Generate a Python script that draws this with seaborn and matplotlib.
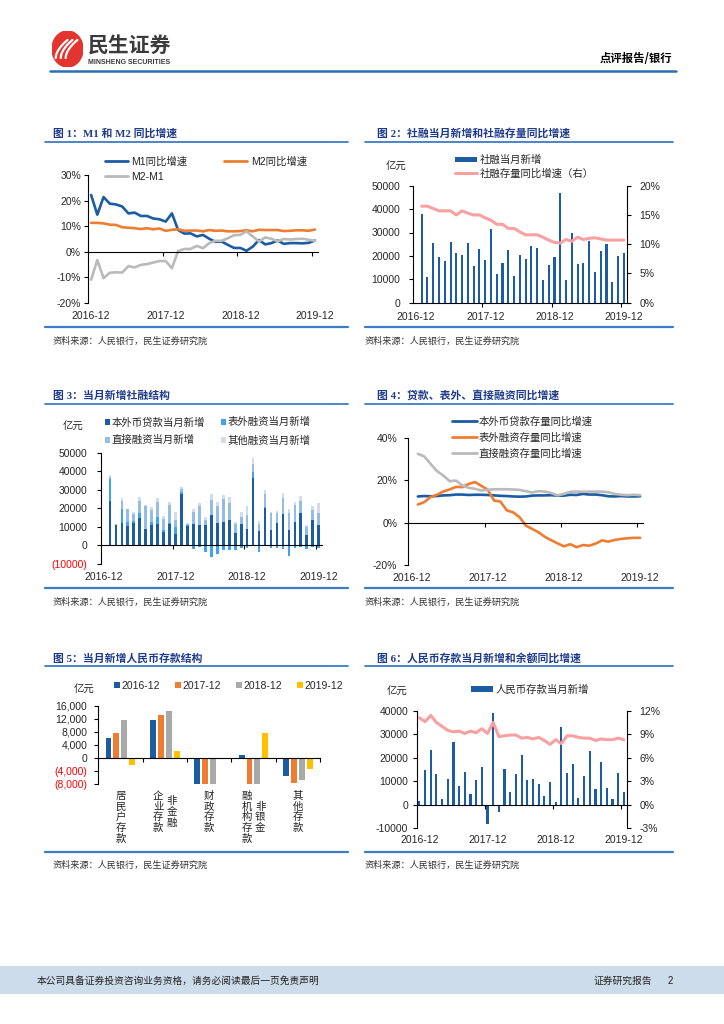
import numpy as np
import pandas as pd
import matplotlib
matplotlib.use('Agg')
import matplotlib.pyplot as plt
import matplotlib.transforms as mtransforms
from matplotlib.lines import Line2D
from matplotlib.patches import Patch, Ellipse, Rectangle
import seaborn as sns

# ---------------- datos ----------------
months = list(pd.period_range('2016-12', '2019-12', freq='M').strftime('%Y-%m'))
tick_labels = ['2016-12', '2017-12', '2018-12', '2019-12']
tick_pos = [0, 12, 24, 36]

# 图1 (2016-12 ~ 2019-12)
m1 = [22.2, 14.5, 21.4, 18.8, 18.5, 17.7, 15.0, 15.3, 14.0, 14.0, 13.0, 12.7, 11.8,
      15.0, 8.5, 7.1, 7.2, 6.0, 6.6, 5.1, 3.9, 4.0, 2.7, 1.5, 1.5,
      0.4, 2.0, 4.6, 2.9, 3.4, 4.4, 3.1, 3.4, 3.4, 3.3, 3.5, 4.4]
m2 = [11.3, 11.3, 11.1, 10.6, 10.5, 9.6, 9.4, 9.2, 8.9, 9.2, 8.8, 9.1, 8.2,
      8.6, 8.8, 8.2, 8.3, 8.3, 8.0, 8.5, 8.2, 8.3, 8.0, 8.0, 8.1,
      8.4, 8.0, 8.6, 8.5, 8.5, 8.5, 8.1, 8.2, 8.4, 8.4, 8.2, 8.7]
m2_m1 = [-10.9, -3.2, -10.3, -8.2, -8.0, -8.1, -5.6, -6.1, -5.1, -4.8, -4.2, -3.6, -3.6,
         -6.4, 0.3, 1.1, 1.1, 2.3, 1.4, 3.4, 4.3, 4.3, 5.3, 6.5, 6.6,
         8.0, 6.0, 4.0, 5.6, 5.1, 4.1, 5.0, 4.8, 5.0, 5.1, 4.7, 4.3]

# 图2 (2017-01 ~ 2019-12)
tsf_new = [37700, 11100, 25600, 19700, 17800, 25900, 21400, 20400, 25500, 15800, 22900, 18100,
           31500, 12100, 17100, 22500, 11400, 20500, 18500, 24100, 23200, 9500, 16000, 19500,
           46900, 9500, 29600, 16700, 17100, 26200, 13000, 22100, 25100, 8700, 20100, 21100]
tsf_yoy = [16.5, 16.5, 16.1, 15.7, 15.7, 15.7, 15.0, 15.7, 15.3, 15.0, 15.0, 14.5,
           14.1, 13.4, 13.4, 12.7, 12.7, 12.1, 11.6, 11.6, 11.6, 11.2, 10.7, 10.3,
           10.2, 10.8, 10.5, 11.2, 10.8, 11.0, 11.1, 10.9, 10.7, 10.7, 10.7, 10.7]

# 图3 (2017-01 ~ 2019-12)
loan_new = [23700, 10900, 12000, 10600, 12000, 14900, 9100, 11100, 11600, 7000, 11600, 6100,
            27600, 10400, 11600, 11100, 11100, 16500, 12200, 12900, 13800, 6600, 11600, 8600,
            36400, 7900, 20100, 8400, 12200, 16800, 8100, 12900, 17400, 5400, 13600, 10900]
offbal_new = [12100, 200, 7500, 1800, 1200, 2500, -500, 1800, 4000, 1100, 500, 3600,
              1400, 500, -1800, -800, -3800, -6300, -4700, -2300, -2300, -2500, -1600, -1600,
              3000, -3400, 500, -1600, -1600, -2000, -5900, -1300, -1100, -2000, -1100, -1400]
direct_new = [1200, 200, 4700, 7100, 3900, 6300, 12000, 6300, 7700, 6200, 9600, 4100,
              1200, 600, 6300, 9900, 2700, 8100, 8800, 12000, 9300, 5000, 4000, 7900,
              4500, 3500, 7400, 9000, 5200, 8600, 9600, 9000, 6300, 4300, 5600, 6800]
other_new = [1200, 300, 1600, 200, 1000, 2300, 900, 1400, 2100, 1600, 1600, 4500,
             1200, 500, 1800, 1800, 1800, 3200, 2300, 2200, 3100, 1300, 2500, 4500,
             3100, 1900, 1700, 900, 1200, 3100, 1800, 1400, 2800, 1200, 2100, 5100]

# 图4 (2017-01 ~ 2019-12)
loan_yoy = [12.3, 12.5, 12.4, 12.5, 12.8, 12.9, 13.2, 13.2, 13.0, 13.1, 13.1, 13.0,
            12.8, 12.6, 12.5, 12.3, 12.2, 12.3, 12.7, 12.8, 12.8, 12.9, 12.7, 12.7,
            13.1, 13.0, 13.5, 13.2, 13.2, 12.9, 12.4, 12.3, 12.5, 12.3, 12.3, 12.4]
offbal_yoy = [8.5, 9.6, 12.0, 13.1, 14.6, 15.6, 16.8, 16.7, 18.2, 19.1, 17.3, 15.5,
              10.4, 9.9, 5.8, 4.8, 2.6, -1.4, -3.0, -4.6, -6.7, -8.3, -9.8, -11.2,
              -10.2, -11.6, -10.6, -10.9, -9.9, -8.4, -9.0, -8.2, -7.7, -7.4, -7.2, -7.2]
direct_yoy = [32.4, 31.2, 27.7, 24.3, 22.2, 19.5, 19.8, 17.5, 16.4, 15.9, 15.1, 15.4,
              15.7, 15.7, 15.7, 15.6, 15.4, 14.8, 14.2, 14.8, 14.6, 13.9, 12.8, 13.5,
              14.5, 14.6, 14.5, 14.6, 14.6, 14.6, 14.3, 13.5, 13.1, 12.9, 13.1, 12.9]

# 图5
dep_cats = ['居民户存款', '非金融企业存款', '财政存款', '非银金融机构存款', '其他存款']
dep_years = ['2016-12', '2017-12', '2018-12', '2019-12']
dep_2016 = [6200, 11500, -10500, 900, -5500]
dep_2017 = [7600, 13300, -12000, -10500, -7600]
dep_2018 = [11600, 14400, -9500, -7900, -6700]
dep_2019 = [-2000, 2200, np.nan, 7700, -3200]
# columnas verticales de cada etiqueta (de derecha a izquierda)
dep_label_cols = [['居民户存款'], ['非金融', '企业存款'], ['财政存款'], ['非银金', '融机构存款'], ['其他存款']]

# 图6 (2016-12 ~ 2019-12)
rmb_dep_new = [1700, 15000, 23100, 12900, 2600, 11100, 26600, 8100, 13900, 4400, 10600, 15900,
               -8000, 38900, -2900, 15100, 5600, 13000, 21300, 10400, 11100, 9000, 3600, 9600,
               1100, 32900, 13300, 17400, 2700, 12400, 22900, 6600, 18100, 7300, 2400, 13300, 5600]
rmb_dep_yoy = [11.1, 10.6, 11.4, 10.5, 10.0, 9.5, 9.3, 9.4, 9.1, 9.4, 9.2, 9.7,
               9.1, 10.5, 8.7, 8.8, 8.9, 8.9, 8.5, 8.6, 8.4, 8.6, 8.2, 7.7,
               8.3, 7.8, 8.8, 8.8, 8.6, 8.5, 8.5, 8.2, 8.4, 8.3, 8.3, 8.5, 8.3]

# ---------------- estilo ----------------
sns.set_theme(style="white")
plt.rcParams['font.family'] = ['Liberation Sans', 'Noto Sans CJK SC', 'DejaVu Sans']
plt.rcParams['axes.unicode_minus'] = False

C_BLUE = '#1B5CA3'
C_ORANGE = '#EE7D31'
C_GRAY = '#BABABA'
C_PINK = '#F9A0A0'
C_OFFBAL = '#3FA4EE'
C_DIRECT = '#93BDE5'
C_OTHER = '#CFDDEF'
C_TITLE = '#1F3A8A'
C_LINE = '#3C7BC5'
FS = 7.5
CJK = ['Noto Sans CJK SC', 'DejaVu Sans']

W, H = 724, 1024
fig = plt.figure(figsize=(7.24, 10.24), dpi=100)


def rect(l, t, r, b):
    return [l / W, 1 - b / H, (r - l) / W, (b - t) / H]


def fx(x):
    return x / W


def fy(y):
    return 1 - y / H


def panel(x0, x1, tx, y_title, y_line, y_src, sx, title):
    fig.text(fx(tx), fy(y_title), title, fontsize=7.8, fontweight='bold', color=C_TITLE,
             va='center', ha='left', family=['Liberation Serif', 'Noto Sans CJK SC'])
    fig.add_artist(Line2D([fx(x0), fx(x1)], [fy(y_line)] * 2, color=C_LINE, lw=1.3))
    fig.add_artist(Line2D([fx(x0), fx(x1)], [fy(y_src)] * 2, color=C_LINE, lw=1.6))
    fig.text(fx(sx), fy(y_src + 14), '资料来源：人民银行，民生证券研究院', fontsize=6.6,
             color='#333333', va='center', ha='left', family=CJK)


def style(ax, zero=True, xt=(11.5, 23.5, 35.5)):
    for s in ['top', 'right']:
        ax.spines[s].set_visible(False)
    for s in ['left', 'bottom']:
        ax.spines[s].set_color('black')
        ax.spines[s].set_linewidth(0.8)
    if zero:
        ax.spines['bottom'].set_position(('data', 0))
    ax.set_xticks(list(xt))
    ax.set_xticklabels([])
    ax.tick_params(axis='x', direction='out', length=3, width=0.8, color='black', bottom=True)
    ax.tick_params(axis='y', direction='out', length=3, width=0.8, color='black', left=True,
                   labelsize=FS, pad=2)
    ax.grid(False)
    ax.set_xlabel('')
    ax.set_ylabel('')
    ax.patch.set_alpha(0)


def yticks(ax, ticks, labels, red_neg=False):
    ax.set_yticks(ticks)
    ax.set_yticklabels(labels)
    if red_neg:
        for t, lab in zip(ticks, ax.get_yticklabels()):
            if t < 0:
                lab.set_color('#FF0000')


def xlabels(ax, ypx):
    tr = mtransforms.blended_transform_factory(ax.transData, fig.transFigure)
    for lab, p in zip(tick_labels, tick_pos):
        ax.text(p, fy(ypx), lab, transform=tr, ha='center', va='center', fontsize=FS)


def unit(xc, ypx):
    fig.text(fx(xc), fy(ypx), '亿元', fontsize=FS, ha='center', va='center', family=CJK)


# ---------------- cabecera ----------------
ax_logo = fig.add_axes(rect(52, 31, 83, 67))
ax_logo.set_xlim(0, 1)
ax_logo.set_ylim(0, 1)
ax_logo.axis('off')
ax_logo.add_patch(Ellipse((0.5, 0.5), 1.0, 1.0, color='#E3342F'))
tt = np.linspace(0, 1, 40)
for off in [0.0, 0.16, 0.32]:
    ax_logo.plot(0.12 + off + 0.38 * tt, 0.25 + 0.5 * tt ** 0.55, color='white', lw=1.6,
                 solid_capstyle='round')
fig.text(fx(88), fy(46), '民生证券', fontsize=15, fontweight='bold', color='#3A3A3A',
         va='center', ha='left', family=CJK)
fig.text(fx(88.5), fy(62.5), 'MINSHENG SECURITIES', fontsize=5.0, fontweight='bold',
         color='#3A3A3A', va='center', ha='left')
fig.text(fx(672), fy(59), '点评报告/银行', fontsize=8.2, fontweight='bold', color='black',
         va='center', ha='right', family=CJK)
fig.add_artist(Line2D([fx(50), fx(676)], [fy(71)] * 2, color='#2F6DB5', lw=1.8))

# ---------------- paneles ----------------
panel(45, 348, 53, 133.3, 141.7, 327.3, 53, '图 1：M1 和 M2 同比增速')
panel(365, 673, 377, 133.3, 141.7, 327.3, 365, '图 2：社融当月新增和社融存量同比增速')
panel(45, 348, 53, 395.7, 404.3, 588.3, 53, '图 3：当月新增社融结构')
panel(365, 673, 377, 395.7, 404.3, 588.3, 365, '图 4：贷款、表外、直接融资同比增速')
panel(45, 348, 53, 658.3, 666.0, 851.7, 53, '图 5：当月新增人民币存款结构')
panel(365, 673, 377, 658.3, 666.0, 851.7, 365, '图 6：人民币存款当月新增和余额同比增速')

# ---------------- 图1 ----------------
x1 = np.arange(len(months))
ax1 = fig.add_axes(rect(88, 175, 318, 303))
sns.lineplot(x=x1, y=m1, ax=ax1, color=C_BLUE, linewidth=1.9)
sns.lineplot(x=x1, y=m2, ax=ax1, color=C_ORANGE, linewidth=1.9)
sns.lineplot(x=x1, y=m2_m1, ax=ax1, color=C_GRAY, linewidth=1.9)
ax1.set_xlim(-0.5, 36.5)
ax1.set_ylim(-20, 30)
style(ax1)
yticks(ax1, [-20, -10, 0, 10, 20, 30], ['-20%', '-10%', '0%', '10%', '20%', '30%'])
xlabels(ax1, 316)
h1 = [Line2D([], [], color=C_BLUE, lw=2), Line2D([], [], color=C_GRAY, lw=2),
      Line2D([], [], color=C_ORANGE, lw=2)]
ax1.legend(h1, ['M1同比增速', 'M2-M1', 'M2同比增速'], ncol=2, loc='upper left',
           bbox_to_anchor=(fx(105), fy(156)), bbox_transform=fig.transFigure, frameon=False,
           fontsize=FS, handlelength=2.2, handletextpad=0.35, columnspacing=3.5,
           labelspacing=0.55, borderpad=0, borderaxespad=0)

# ---------------- 图2 ----------------
x2 = np.arange(1, 37)
ax2 = fig.add_axes(rect(413, 185.7, 626.7, 302.7))
sns.barplot(x=x2, y=tsf_new, native_scale=True, ax=ax2, color=C_BLUE, width=0.36,
            saturation=1, linewidth=0, errorbar=None)
ax2.set_xlim(-0.5, 36.5)
ax2.set_ylim(0, 50000)
style(ax2, zero=False)
ax2.tick_params(axis='y', pad=6)
yticks(ax2, [0, 10000, 20000, 30000, 40000, 50000],
       ['0', '10000', '20000', '30000', '40000', '50000'])
ax2r = ax2.twinx()
sns.lineplot(x=x2, y=tsf_yoy, ax=ax2r, color=C_PINK, linewidth=2.2)
ax2r.set_ylim(0, 20)
for s in ['left', 'top', 'bottom']:
    ax2r.spines[s].set_visible(False)
ax2r.spines['right'].set_color('black')
ax2r.spines['right'].set_linewidth(0.8)
ax2r.tick_params(axis='y', direction='out', length=3, width=0.8, color='black', right=True,
                 labelsize=FS, pad=6)
ax2r.set_ylabel('')
ax2r.grid(False)
yticks(ax2r, [0, 5, 10, 15, 20], ['0%', '5%', '10%', '15%', '20%'])
xlabels(ax2, 316.7)
unit(396, 166.7)
h2 = [Patch(color=C_BLUE, lw=0), Line2D([], [], color=C_PINK, lw=2.2)]
ax2r.legend(h2, ['社融当月新增', '社融存量同比增速（右）'], loc='upper left',
            bbox_to_anchor=(fx(455), fy(155)), bbox_transform=fig.transFigure, frameon=False,
            fontsize=FS, handlelength=2.1, handleheight=0.5, handletextpad=0.3,
            labelspacing=0.3, borderpad=0, borderaxespad=0)

# ---------------- 图3 ----------------
x3 = np.arange(1, 37)
off = np.array(offbal_new)
lay2 = np.array(loan_new) + np.clip(off, 0, None)
lay3 = lay2 + np.array(direct_new)
lay4 = lay3 + np.array(other_new)
neg = np.clip(off, None, 0)
ax3 = fig.add_axes(rect(101, 452.7, 321.7, 564))
for vals, col in [(lay4, C_OTHER), (lay3, C_DIRECT), (lay2, C_OFFBAL), (loan_new, C_BLUE),
                  (neg, C_OFFBAL)]:
    sns.barplot(x=x3, y=vals, native_scale=True, ax=ax3, color=col, width=0.45,
                saturation=1, linewidth=0, errorbar=None)
ax3.set_xlim(-0.5, 36.5)
ax3.set_ylim(-10000, 50000)
style(ax3)
ax3.tick_params(axis='y', pad=7)
yticks(ax3, [-10000, 0, 10000, 20000, 30000, 40000, 50000],
       ['(10000)', '0', '10000', '20000', '30000', '40000', '50000'], red_neg=True)
xlabels(ax3, 576.7)
unit(73, 426.7)
h3 = [Patch(color=C_BLUE, lw=0), Patch(color=C_DIRECT, lw=0), Patch(color=C_OFFBAL, lw=0),
      Patch(color=C_OTHER, lw=0)]
ax3.legend(h3, ['本外币贷款当月新增', '直接融资当月新增', '表外融资当月新增', '其他融资当月新增'],
           ncol=2, loc='upper left', bbox_to_anchor=(fx(105), fy(417)),
           bbox_transform=fig.transFigure, frameon=False, fontsize=FS, handlelength=0.5,
           handleheight=0.5, handletextpad=0.15, columnspacing=1.5, labelspacing=0.75,
           borderpad=0, borderaxespad=0)

# ---------------- 图4 ----------------
x4 = np.arange(1, 37)
ax4 = fig.add_axes(rect(408.3, 437.7, 643.3, 565))
sns.lineplot(x=x4, y=loan_yoy, ax=ax4, color=C_BLUE, linewidth=1.9)
sns.lineplot(x=x4, y=offbal_yoy, ax=ax4, color=C_ORANGE, linewidth=1.9)
sns.lineplot(x=x4, y=direct_yoy, ax=ax4, color=C_GRAY, linewidth=1.9)
ax4.set_xlim(-0.5, 36.5)
ax4.set_ylim(-20, 40)
style(ax4)
ax4.tick_params(axis='y', pad=5)
yticks(ax4, [-20, 0, 20, 40], ['-20%', '0%', '20%', '40%'])
xlabels(ax4, 577.7)
h4 = [Line2D([], [], color=C_BLUE, lw=2), Line2D([], [], color=C_ORANGE, lw=2),
      Line2D([], [], color=C_GRAY, lw=2)]
ax4.legend(h4, ['本外币贷款存量同比增速', '表外融资存量同比增速', '直接融资存量同比增速'],
           loc='upper left', bbox_to_anchor=(fx(451.7), fy(416)),
           bbox_transform=fig.transFigure, frameon=False, fontsize=FS, handlelength=2.4,
           handletextpad=0.22, labelspacing=0.55, borderpad=0, borderaxespad=0)

# ---------------- 图5 ----------------
df5 = pd.DataFrame({
    'cat': dep_cats * 4,
    'year': sum([[y] * len(dep_cats) for y in dep_years], []),
    'value': dep_2016 + dep_2017 + dep_2018 + dep_2019,
})
pal5 = dict(zip(dep_years, [C_BLUE, C_ORANGE, '#A9A9A9', '#FFC000']))
ax5 = fig.add_axes(rect(98.3, 705.7, 320, 784.3))
sns.barplot(data=df5, x='cat', y='value', hue='year', order=dep_cats, hue_order=dep_years,
            palette=pal5, width=0.72, gap=0.25, saturation=1, linewidth=0, errorbar=None,
            legend=False, ax=ax5)
ax5.set_xlim(-0.5, 4.5)
ax5.set_ylim(-8000, 16000)
style(ax5, xt=(0.5, 1.5, 2.5, 3.5, 4.5))
ax5.tick_params(axis='y', pad=5)
yticks(ax5, [-8000, -4000, 0, 4000, 8000, 12000, 16000],
       ['(8,000)', '(4,000)', '0', '4,000', '8,000', '12,000', '16,000'], red_neg=True)
unit(84, 690)
h5 = [Patch(color=pal5[y], lw=0) for y in dep_years]
ax5.legend(h5, dep_years, ncol=4, loc='center left', bbox_to_anchor=(fx(114), fy(685.7)),
           bbox_transform=fig.transFigure, frameon=False, fontsize=FS, handlelength=0.55,
           handleheight=0.55, handletextpad=0.15, columnspacing=1.45, borderpad=0,
           borderaxespad=0)
# etiquetas verticales
tr5 = mtransforms.blended_transform_factory(ax5.transData, fig.transFigure)
step = 10.7
for i, cols in enumerate(dep_label_cols):
    n = len(cols)
    maxlen = max(len(c) for c in cols)
    for j, col in enumerate(cols):
        dx = 0 if n == 1 else (6.7 if j == 0 else -6.7)
        trj = mtransforms.offset_copy(tr5, fig=fig, x=dx, y=0, units='dots')
        y0 = 796 + (maxlen - len(col)) * step / 2
        for k, ch in enumerate(col):
            ax5.text(i, fy(y0 + k * step), ch, transform=trj, ha='center', va='center',
                     fontsize=FS, family=CJK, color='#222222')

# ---------------- 图6 ----------------
x6 = np.arange(len(months))
ax6 = fig.add_axes(rect(416.5, 710.7, 626.7, 828.3))
sns.barplot(x=x6, y=rmb_dep_new, native_scale=True, ax=ax6, color=C_BLUE, width=0.38,
            saturation=1, linewidth=0, errorbar=None)
ax6.set_xlim(-0.5, 36.5)
ax6.set_ylim(-10000, 40000)
style(ax6)
ax6.tick_params(axis='y', pad=3)
yticks(ax6, [-10000, 0, 10000, 20000, 30000, 40000],
       ['-10000', '0', '10000', '20000', '30000', '40000'])
ax6r = ax6.twinx()
sns.lineplot(x=x6, y=rmb_dep_yoy, ax=ax6r, color=C_PINK, linewidth=2.2)
ax6r.set_ylim(-3, 12)
for s in ['left', 'top', 'bottom']:
    ax6r.spines[s].set_visible(False)
ax6r.spines['right'].set_color('black')
ax6r.spines['right'].set_linewidth(0.8)
ax6r.tick_params(axis='y', direction='out', length=3, width=0.8, color='black', right=True,
                 labelsize=FS, pad=6)
ax6r.set_ylabel('')
ax6r.grid(False)
yticks(ax6r, [-3, 0, 3, 6, 9, 12], ['-3%', '0%', '3%', '6%', '9%', '12%'])
xlabels(ax6, 840)
unit(397, 691.7)
ax6r.legend([Patch(color=C_BLUE, lw=0)], ['人民币存款当月新增'], loc='center left',
            bbox_to_anchor=(fx(471), fy(690)), bbox_transform=fig.transFigure, frameon=False,
            fontsize=FS, handlelength=2.1, handleheight=0.5, handletextpad=0.3,
            borderpad=0, borderaxespad=0)

# ---------------- pie de pagina ----------------
fig.add_artist(Rectangle((0, fy(994)), 1, (994 - 966) / H, transform=fig.transFigure,
                         color='#CDDCEA', lw=0))
fig.text(fx(37), fy(981), '本公司具备证券投资咨询业务资格，请务必阅读最后一页免责声明',
         fontsize=7.0, color='#222222', va='center', ha='left', family=CJK)
fig.text(fx(652), fy(981), '证券研究报告', fontsize=7.0, color='#222222', va='center',
         ha='right', family=CJK)
fig.text(fx(670), fy(981), '2', fontsize=7.0, color='#222222', va='center', ha='center')

fig.savefig('out.png', dpi=100)
plt.close(fig)
